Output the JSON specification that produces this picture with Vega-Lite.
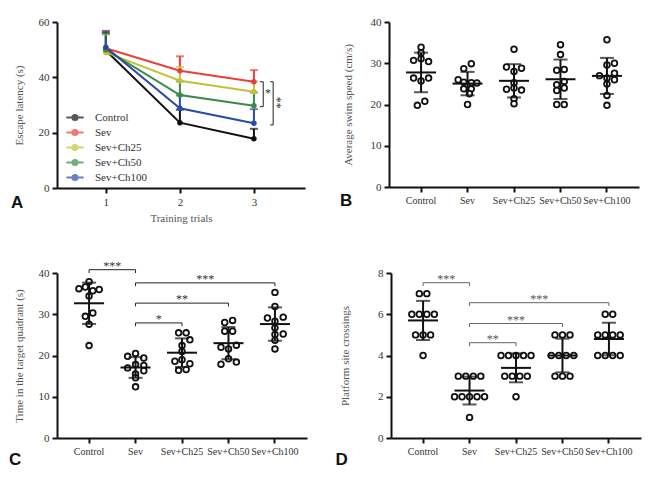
{
  "$schema": "https://vega.github.io/schema/vega-lite/v6.json",
  "padding": {"left": 9, "top": 16, "right": 4, "bottom": 4},
  "background": "white",
  "spacing": 36,
  "config": {
    "font": "Liberation Serif",
    "view": {"stroke": null},
    "axis": {
      "domainColor": "#111", "domainWidth": 2, "tickColor": "#111", "tickWidth": 2, "tickSize": 5,
      "labelFont": "Liberation Serif", "labelFontSize": 11, "labelColor": "#333", "labelPadding": 3,
      "titleFont": "Liberation Serif", "titleFontSize": 11, "titleFontWeight": "normal", "titleColor": "#555",
      "grid": false
    },
    "axisX": {"labelFontSize": 10},
    "legend": {"labelFont": "Liberation Serif", "labelFontSize": 11, "labelColor": "#333", "labelFontWeight": "normal"},
    "title": {"font": "Liberation Sans", "fontSize": 17, "fontWeight": "bold", "color": "#111"}
  },
  "datasets": {
    "a": [
      {"trial": 1, "group": "Control", "mean": 49.7, "upper": 56.0},
      {"trial": 2, "group": "Control", "mean": 23.6, "upper": 28.3},
      {"trial": 3, "group": "Control", "mean": 17.8, "upper": 21.4},
      {"trial": 1, "group": "Sev", "mean": 50.5, "upper": 56.8},
      {"trial": 2, "group": "Sev", "mean": 42.4, "upper": 47.6},
      {"trial": 3, "group": "Sev", "mean": 38.4, "upper": 42.6},
      {"trial": 1, "group": "Sev+Ch25", "mean": 49.0, "upper": 55.5},
      {"trial": 2, "group": "Sev+Ch25", "mean": 38.8, "upper": 43.8},
      {"trial": 3, "group": "Sev+Ch25", "mean": 34.8, "upper": 38.5},
      {"trial": 1, "group": "Sev+Ch50", "mean": 50.0, "upper": 55.8},
      {"trial": 2, "group": "Sev+Ch50", "mean": 33.6, "upper": 38.5},
      {"trial": 3, "group": "Sev+Ch50", "mean": 29.7, "upper": 34.5},
      {"trial": 1, "group": "Sev+Ch100", "mean": 50.9, "upper": 56.6},
      {"trial": 2, "group": "Sev+Ch100", "mean": 28.8, "upper": 33.5},
      {"trial": 3, "group": "Sev+Ch100", "mean": 23.4, "upper": 28.5}
    ],
    "abr": [
      {"x": 3.08, "x2": 3.126, "y": 38.4, "y2": 38.4},
      {"x": 3.08, "x2": 3.126, "y": 29.4, "y2": 29.4},
      {"x": 3.126, "x2": 3.126, "y": 29.4, "y2": 38.4},
      {"x": 3.22, "x2": 3.26, "y": 38.4, "y2": 38.4},
      {"x": 3.22, "x2": 3.26, "y": 22.8, "y2": 22.8},
      {"x": 3.26, "x2": 3.26, "y": 22.8, "y2": 38.4}
    ],
    "atext": [
      {"x": 3.19, "y": 34.2, "lab": "*", "ang": 0},
      {"x": 3.31, "y": 30.8, "lab": "**", "ang": 90}
    ],
    "b": [
      {"g": "Control", "v": 33.9, "slot": 0}, {"g": "Control", "v": 32.5, "slot": 0}, {"g": "Control", "v": 31.1, "slot": 0},
      {"g": "Control", "v": 30.7, "slot": -2}, {"g": "Control", "v": 30.4, "slot": 2}, {"g": "Control", "v": 26.4, "slot": -2},
      {"g": "Control", "v": 25.7, "slot": 0}, {"g": "Control", "v": 26.4, "slot": 2}, {"g": "Control", "v": 20.8, "slot": 1},
      {"g": "Control", "v": 19.8, "slot": -1},
      {"g": "Sev", "v": 29.9, "slot": 1}, {"g": "Sev", "v": 28.7, "slot": -1}, {"g": "Sev", "v": 26.0, "slot": -2.5},
      {"g": "Sev", "v": 25.4, "slot": -1}, {"g": "Sev", "v": 25.3, "slot": 1}, {"g": "Sev", "v": 25.2, "slot": 2.5},
      {"g": "Sev", "v": 23.8, "slot": -1}, {"g": "Sev", "v": 23.8, "slot": 1}, {"g": "Sev", "v": 22.6, "slot": 0.5},
      {"g": "Sev", "v": 20.0, "slot": 0},
      {"g": "Sev+Ch25", "v": 33.4, "slot": 0}, {"g": "Sev+Ch25", "v": 29.1, "slot": -2}, {"g": "Sev+Ch25", "v": 28.8, "slot": 2},
      {"g": "Sev+Ch25", "v": 28.0, "slot": 0}, {"g": "Sev+Ch25", "v": 25.3, "slot": 0}, {"g": "Sev+Ch25", "v": 24.0, "slot": 0},
      {"g": "Sev+Ch25", "v": 23.7, "slot": -2}, {"g": "Sev+Ch25", "v": 23.5, "slot": 2}, {"g": "Sev+Ch25", "v": 21.4, "slot": 0},
      {"g": "Sev+Ch25", "v": 20.2, "slot": 0},
      {"g": "Sev+Ch50", "v": 34.5, "slot": 0}, {"g": "Sev+Ch50", "v": 32.1, "slot": 0}, {"g": "Sev+Ch50", "v": 28.5, "slot": 1},
      {"g": "Sev+Ch50", "v": 28.3, "slot": -1}, {"g": "Sev+Ch50", "v": 25.6, "slot": 1}, {"g": "Sev+Ch50", "v": 24.8, "slot": -1},
      {"g": "Sev+Ch50", "v": 24.0, "slot": 1}, {"g": "Sev+Ch50", "v": 23.4, "slot": -1}, {"g": "Sev+Ch50", "v": 20.0, "slot": -1},
      {"g": "Sev+Ch50", "v": 20.0, "slot": 1},
      {"g": "Sev+Ch100", "v": 35.7, "slot": 0}, {"g": "Sev+Ch100", "v": 30.0, "slot": 2}, {"g": "Sev+Ch100", "v": 29.6, "slot": 0},
      {"g": "Sev+Ch100", "v": 27.6, "slot": 2}, {"g": "Sev+Ch100", "v": 27.0, "slot": -2}, {"g": "Sev+Ch100", "v": 26.4, "slot": 0},
      {"g": "Sev+Ch100", "v": 26.0, "slot": 2}, {"g": "Sev+Ch100", "v": 25.0, "slot": 0}, {"g": "Sev+Ch100", "v": 22.2, "slot": 0},
      {"g": "Sev+Ch100", "v": 19.8, "slot": 0}
    ],
    "c": [
      {"g": "Control", "v": 37.9, "slot": 0}, {"g": "Control", "v": 36.6, "slot": -1}, {"g": "Control", "v": 36.2, "slot": -2.7},
      {"g": "Control", "v": 35.7, "slot": 1}, {"g": "Control", "v": 36.0, "slot": 2.7}, {"g": "Control", "v": 34.4, "slot": 0},
      {"g": "Control", "v": 30.3, "slot": 1}, {"g": "Control", "v": 29.5, "slot": -1}, {"g": "Control", "v": 27.6, "slot": 0},
      {"g": "Control", "v": 22.4, "slot": 0},
      {"g": "Sev", "v": 20.5, "slot": 0}, {"g": "Sev", "v": 19.8, "slot": -2.1}, {"g": "Sev", "v": 19.4, "slot": 2.2},
      {"g": "Sev", "v": 17.8, "slot": 0}, {"g": "Sev", "v": 17.6, "slot": 2.2}, {"g": "Sev", "v": 17.0, "slot": -2.1},
      {"g": "Sev", "v": 16.3, "slot": 2.2}, {"g": "Sev", "v": 15.5, "slot": 0}, {"g": "Sev", "v": 14.6, "slot": 0},
      {"g": "Sev", "v": 12.4, "slot": 0},
      {"g": "Sev+Ch25", "v": 25.5, "slot": -0.9}, {"g": "Sev+Ch25", "v": 25.5, "slot": 1.1}, {"g": "Sev+Ch25", "v": 23.8, "slot": 2.1},
      {"g": "Sev+Ch25", "v": 22.4, "slot": 0}, {"g": "Sev+Ch25", "v": 21.0, "slot": 0}, {"g": "Sev+Ch25", "v": 18.6, "slot": -1.9},
      {"g": "Sev+Ch25", "v": 19.0, "slot": 0}, {"g": "Sev+Ch25", "v": 18.0, "slot": 2.1}, {"g": "Sev+Ch25", "v": 16.4, "slot": -0.9},
      {"g": "Sev+Ch25", "v": 16.6, "slot": 1.1},
      {"g": "Sev+Ch50", "v": 28.0, "slot": -1}, {"g": "Sev+Ch50", "v": 28.5, "slot": 1.1}, {"g": "Sev+Ch50", "v": 25.9, "slot": -1},
      {"g": "Sev+Ch50", "v": 25.9, "slot": 1.1}, {"g": "Sev+Ch50", "v": 22.0, "slot": -2}, {"g": "Sev+Ch50", "v": 22.5, "slot": 2.1},
      {"g": "Sev+Ch50", "v": 21.6, "slot": 0}, {"g": "Sev+Ch50", "v": 19.2, "slot": 0}, {"g": "Sev+Ch50", "v": 17.9, "slot": -2},
      {"g": "Sev+Ch50", "v": 18.4, "slot": 2.1},
      {"g": "Sev+Ch100", "v": 35.3, "slot": 0}, {"g": "Sev+Ch100", "v": 31.9, "slot": 0}, {"g": "Sev+Ch100", "v": 29.1, "slot": -2},
      {"g": "Sev+Ch100", "v": 29.3, "slot": 2.2}, {"g": "Sev+Ch100", "v": 28.3, "slot": 0}, {"g": "Sev+Ch100", "v": 26.7, "slot": 0},
      {"g": "Sev+Ch100", "v": 25.1, "slot": 0}, {"g": "Sev+Ch100", "v": 25.2, "slot": 2.2}, {"g": "Sev+Ch100", "v": 23.7, "slot": 0},
      {"g": "Sev+Ch100", "v": 21.6, "slot": 0}
    ],
    "cbr": [
      {"from": "Control", "to": "Sev", "y": 40.8, "ylow": 40.0, "mid": "Control", "bp": 1, "lab": "***"},
      {"from": "Sev", "to": "Sev+Ch100", "y": 37.6, "ylow": 36.8, "mid": "Sev+Ch25", "bp": 1, "lab": "***"},
      {"from": "Sev", "to": "Sev+Ch50", "y": 32.7, "ylow": 31.9, "mid": "Sev+Ch25", "bp": 0.5, "lab": "**"},
      {"from": "Sev", "to": "Sev+Ch25", "y": 27.9, "ylow": 27.1, "mid": "Sev", "bp": 1, "lab": "*"}
    ],
    "d": [
      {"g": "Control", "v": 7, "slot": -1}, {"g": "Control", "v": 7, "slot": 1},
      {"g": "Control", "v": 6, "slot": -3}, {"g": "Control", "v": 6, "slot": -1}, {"g": "Control", "v": 6, "slot": 1}, {"g": "Control", "v": 6, "slot": 3},
      {"g": "Control", "v": 5, "slot": -2}, {"g": "Control", "v": 5, "slot": 0}, {"g": "Control", "v": 5, "slot": 2},
      {"g": "Control", "v": 4, "slot": 0},
      {"g": "Sev", "v": 3, "slot": -3}, {"g": "Sev", "v": 3, "slot": -1}, {"g": "Sev", "v": 3, "slot": 1}, {"g": "Sev", "v": 3, "slot": 3},
      {"g": "Sev", "v": 2, "slot": -4}, {"g": "Sev", "v": 2, "slot": -2}, {"g": "Sev", "v": 2, "slot": 0}, {"g": "Sev", "v": 2, "slot": 2}, {"g": "Sev", "v": 2, "slot": 4},
      {"g": "Sev", "v": 1, "slot": 0},
      {"g": "Sev+Ch25", "v": 4, "slot": -4}, {"g": "Sev+Ch25", "v": 4, "slot": -2}, {"g": "Sev+Ch25", "v": 4, "slot": 0}, {"g": "Sev+Ch25", "v": 4, "slot": 2}, {"g": "Sev+Ch25", "v": 4, "slot": 4},
      {"g": "Sev+Ch25", "v": 3, "slot": -3}, {"g": "Sev+Ch25", "v": 3, "slot": -1}, {"g": "Sev+Ch25", "v": 3, "slot": 1}, {"g": "Sev+Ch25", "v": 3, "slot": 3},
      {"g": "Sev+Ch25", "v": 2, "slot": 0},
      {"g": "Sev+Ch50", "v": 5, "slot": -2}, {"g": "Sev+Ch50", "v": 5, "slot": 0}, {"g": "Sev+Ch50", "v": 5, "slot": 2},
      {"g": "Sev+Ch50", "v": 4, "slot": -3}, {"g": "Sev+Ch50", "v": 4, "slot": -1}, {"g": "Sev+Ch50", "v": 4, "slot": 1}, {"g": "Sev+Ch50", "v": 4, "slot": 3},
      {"g": "Sev+Ch50", "v": 3, "slot": -2}, {"g": "Sev+Ch50", "v": 3, "slot": 0}, {"g": "Sev+Ch50", "v": 3, "slot": 2},
      {"g": "Sev+Ch100", "v": 6, "slot": -1}, {"g": "Sev+Ch100", "v": 6, "slot": 1},
      {"g": "Sev+Ch100", "v": 5, "slot": -3}, {"g": "Sev+Ch100", "v": 5, "slot": -1}, {"g": "Sev+Ch100", "v": 5, "slot": 1}, {"g": "Sev+Ch100", "v": 5, "slot": 3},
      {"g": "Sev+Ch100", "v": 4, "slot": -3}, {"g": "Sev+Ch100", "v": 4, "slot": -1}, {"g": "Sev+Ch100", "v": 4, "slot": 1}, {"g": "Sev+Ch100", "v": 4, "slot": 3}
    ],
    "dbr": [
      {"from": "Control", "to": "Sev", "y": 7.53, "ylow": 7.37, "mid": "Control", "bp": 1, "lab": "***"},
      {"from": "Sev", "to": "Sev+Ch100", "y": 6.56, "ylow": 6.4, "mid": "Sev+Ch25", "bp": 1, "lab": "***"},
      {"from": "Sev", "to": "Sev+Ch50", "y": 5.55, "ylow": 5.38, "mid": "Sev+Ch25", "bp": 0.5, "lab": "***"},
      {"from": "Sev", "to": "Sev+Ch25", "y": 4.62, "ylow": 4.45, "mid": "Sev", "bp": 1, "lab": "**"}
    ]
  },
  "vconcat": [
    {
      "spacing": 35,
      "hconcat": [
        {
          "width": 248, "height": 166,
          "title": {"text": "A", "orient": "bottom", "anchor": "start", "frame": "bounds", "offset": 0, "dy": -28, "dx": -2},
          "layer": [
            {
              "data": {"name": "a"},
              "mark": {"type": "rule", "strokeWidth": 2},
              "encoding": {
                "x": {"field": "trial", "type": "quantitative", "scale": {"domain": [0.34, 3.69], "nice": false, "zero": false},
                      "axis": {"values": [1, 2, 3], "format": "d", "title": "Training trials", "titlePadding": 5, "labelFontSize": 11}},
                "y": {"field": "mean", "type": "quantitative", "scale": {"domain": [0, 60], "nice": false},
                      "axis": {"values": [0, 20, 40, 60], "title": "Escape latency (s)", "titlePadding": 14}},
                "y2": {"field": "upper"},
                "color": {"field": "group", "type": "nominal",
                          "scale": {"domain": ["Control", "Sev", "Sev+Ch25", "Sev+Ch50", "Sev+Ch100"],
                                    "range": ["#111111", "#e8403a", "#c2c23a", "#3a8a48", "#2a4aa8"]},
                          "legend": {"orient": "none", "legendX": 8, "legendY": 89, "title": null,
                                     "labelFont": "Liberation Serif", "labelFontSize": 11, "labelColor": "#333",
                                     "symbolType": "M-1,0H1M-0.3,0A0.3,0.3 0 1,0 0.3,0A0.3,0.3 0 1,0 -0.3,0",
                                     "symbolSize": 300, "symbolStrokeWidth": 2, "rowPadding": 2, "clipHeight": 13, "labelOffset": 10}}
              }
            },
            {
              "data": {"name": "a"},
              "mark": {"type": "tick", "orient": "horizontal", "size": 8, "thickness": 2},
              "encoding": {
                "x": {"field": "trial", "type": "quantitative"},
                "y": {"field": "upper", "type": "quantitative", "title": "Escape latency (s)"},
                "color": {"field": "group", "type": "nominal"}
              }
            },
            {
              "data": {"name": "a"},
              "mark": {"type": "line", "strokeWidth": 2},
              "encoding": {
                "x": {"field": "trial", "type": "quantitative"},
                "y": {"field": "mean", "type": "quantitative"},
                "color": {"field": "group", "type": "nominal"}
              }
            },
            {
              "data": {"name": "a"},
              "mark": {"type": "circle", "size": 30, "opacity": 1},
              "encoding": {
                "x": {"field": "trial", "type": "quantitative"},
                "y": {"field": "mean", "type": "quantitative"},
                "color": {"field": "group", "type": "nominal"}
              }
            },
            {
              "data": {"name": "abr"},
              "mark": {"type": "rule", "strokeWidth": 1, "color": "#222"},
              "encoding": {
                "x": {"field": "x", "type": "quantitative", "title": "Training trials"}, "x2": {"field": "x2"},
                "y": {"field": "y", "type": "quantitative", "title": "Escape latency (s)"}, "y2": {"field": "y2"}
              }
            },
            {
              "data": {"name": "atext"},
              "mark": {"type": "text", "font": "Liberation Serif", "fontSize": 12, "color": "#333"},
              "encoding": {
                "x": {"field": "x", "type": "quantitative", "title": "Training trials"},
                "y": {"field": "y", "type": "quantitative", "title": "Escape latency (s)"},
                "text": {"field": "lab"},
                "angle": {"field": "ang", "type": "quantitative", "scale": null}
              }
            }
          ]
        },
        {
          "width": 250, "height": 165,
          "title": {"text": "B", "orient": "bottom", "anchor": "start", "frame": "bounds", "offset": 0, "dy": -12, "dx": -2},
          "data": {"name": "b"},
          "layer": [
            {
              "mark": {"type": "point", "shape": "circle", "size": 32, "filled": false, "stroke": "#111", "strokeWidth": 1.8, "fill": "white", "fillOpacity": 1, "opacity": 1},
              "encoding": {
                "x": {"field": "g", "type": "nominal", "sort": ["Control", "Sev", "Sev+Ch25", "Sev+Ch50", "Sev+Ch100"],
                      "scale": {"paddingInner": 0, "paddingOuter": 0.19}, "axis": {"title": null, "labelAngle": 0}},
                "xOffset": {"field": "slot", "type": "quantitative", "scale": {"domain": [-3, 3], "range": [8.25, 38.25]}},
                "y": {"field": "v", "type": "quantitative", "title": "Average swim speed (cm/s)", "scale": {"domain": [0, 40], "nice": false},
                      "axis": {"values": [0, 10, 20, 30, 40], "titlePadding": 17}}
              }
            },
            {
              "mark": {"type": "errorbar", "extent": "stdev", "thickness": 2, "color": "#111", "ticks": {"size": 14, "thickness": 2, "color": "#111"}},
              "encoding": {
                "x": {"field": "g", "type": "nominal", "title": null, "sort": ["Control", "Sev", "Sev+Ch25", "Sev+Ch50", "Sev+Ch100"]},
                "y": {"field": "v", "type": "quantitative", "title": "Average swim speed (cm/s)"}
              }
            },
            {
              "mark": {"type": "tick", "thickness": 2, "size": 30, "color": "#111"},
              "encoding": {
                "x": {"field": "g", "type": "nominal", "title": null, "sort": ["Control", "Sev", "Sev+Ch25", "Sev+Ch50", "Sev+Ch100"]},
                "y": {"field": "v", "type": "quantitative", "aggregate": "mean", "title": "Average swim speed (cm/s)"}
              }
            }
          ]
        }
      ]
    },
    {
      "spacing": 28,
      "hconcat": [
        {
          "width": 250, "height": 165,
          "title": {"text": "C", "orient": "bottom", "anchor": "start", "frame": "bounds", "offset": 0, "dy": -4, "dx": -4},
          "layer": [
            {
              "data": {"name": "c"},
              "mark": {"type": "point", "shape": "circle", "size": 32, "filled": false, "stroke": "#111", "strokeWidth": 1.8, "fill": "white", "fillOpacity": 1, "opacity": 1},
              "encoding": {
                "x": {"field": "g", "type": "nominal", "title": null,
                      "scale": {"domain": ["Control", "Sev", "Sev+Ch25", "Sev+Ch50", "Sev+Ch100"], "paddingInner": 0, "paddingOuter": 0.19}, "axis": {"labelAngle": 0}},
                "xOffset": {"field": "slot", "type": "quantitative", "scale": {"domain": [-3, 3], "range": [8.25, 38.25]}},
                "y": {"field": "v", "type": "quantitative", "title": "Time in the target quadrant (s)", "scale": {"domain": [0, 40], "nice": false},
                      "axis": {"values": [0, 10, 20, 30, 40], "titlePadding": 14}}
              }
            },
            {
              "data": {"name": "c"},
              "mark": {"type": "errorbar", "extent": "stdev", "thickness": 2, "color": "#111", "ticks": {"size": 14, "thickness": 2, "color": "#111"}},
              "encoding": {
                "x": {"field": "g", "type": "nominal", "title": null},
                "y": {"field": "v", "type": "quantitative", "title": "Time in the target quadrant (s)"}
              }
            },
            {
              "data": {"name": "c"},
              "mark": {"type": "tick", "thickness": 2, "size": 30, "color": "#111"},
              "encoding": {
                "x": {"field": "g", "type": "nominal", "title": null},
                "y": {"field": "v", "type": "quantitative", "aggregate": "mean", "title": "Time in the target quadrant (s)"}
              }
            },
            {
              "data": {"name": "cbr"},
              "mark": {"type": "rule", "strokeWidth": 1, "color": "#222"},
              "encoding": {
                "x": {"field": "from", "type": "nominal", "title": null}, "x2": {"field": "to"},
                "y": {"field": "y", "type": "quantitative", "title": "Time in the target quadrant (s)"}
              }
            },
            {
              "data": {"name": "cbr"},
              "mark": {"type": "rule", "strokeWidth": 1, "color": "#222"},
              "encoding": {
                "x": {"field": "from", "type": "nominal", "title": null},
                "y": {"field": "y", "type": "quantitative", "title": "Time in the target quadrant (s)"}, "y2": {"field": "ylow"}
              }
            },
            {
              "data": {"name": "cbr"},
              "mark": {"type": "rule", "strokeWidth": 1, "color": "#222"},
              "encoding": {
                "x": {"field": "to", "type": "nominal", "title": null},
                "y": {"field": "y", "type": "quantitative", "title": "Time in the target quadrant (s)"}, "y2": {"field": "ylow"}
              }
            },
            {
              "data": {"name": "cbr"},
              "transform": [{"filter": "datum.bp == 1"}],
              "mark": {"type": "text", "font": "Liberation Serif", "fontSize": 12, "color": "#333", "baseline": "bottom", "dy": 3},
              "encoding": {
                "x": {"field": "mid", "type": "nominal", "bandPosition": 1, "title": null},
                "y": {"field": "y", "type": "quantitative", "title": "Time in the target quadrant (s)"},
                "text": {"field": "lab"}
              }
            },
            {
              "data": {"name": "cbr"},
              "transform": [{"filter": "datum.bp == 0.5"}],
              "mark": {"type": "text", "font": "Liberation Serif", "fontSize": 12, "color": "#333", "baseline": "bottom", "dy": 3},
              "encoding": {
                "x": {"field": "mid", "type": "nominal", "bandPosition": 0.5, "title": null},
                "y": {"field": "y", "type": "quantitative", "title": "Time in the target quadrant (s)"},
                "text": {"field": "lab"}
              }
            }
          ]
        },
        {
          "width": 250, "height": 165,
          "title": {"text": "D", "orient": "bottom", "anchor": "start", "frame": "bounds", "offset": 0, "dy": -4, "dx": -4},
          "layer": [
            {
              "data": {"name": "d"},
              "mark": {"type": "point", "shape": "circle", "size": 32, "filled": false, "stroke": "#111", "strokeWidth": 1.8, "fill": "white", "fillOpacity": 1, "opacity": 1},
              "encoding": {
                "x": {"field": "g", "type": "nominal", "title": null,
                      "scale": {"domain": ["Control", "Sev", "Sev+Ch25", "Sev+Ch50", "Sev+Ch100"], "paddingInner": 0, "paddingOuter": 0.19}, "axis": {"labelAngle": 0}},
                "xOffset": {"field": "slot", "type": "quantitative", "scale": {"domain": [-4, 4], "range": [8.65, 37.85]}},
                "y": {"field": "v", "type": "quantitative", "title": "Platform site crossings", "scale": {"domain": [0, 8], "nice": false},
                      "axis": {"values": [0, 2, 4, 6, 8], "titlePadding": 27}}
              }
            },
            {
              "data": {"name": "d"},
              "mark": {"type": "errorbar", "extent": "stdev", "thickness": 2, "color": "#111", "ticks": {"size": 14, "thickness": 2, "color": "#111"}},
              "encoding": {
                "x": {"field": "g", "type": "nominal", "title": null},
                "y": {"field": "v", "type": "quantitative", "title": "Platform site crossings"}
              }
            },
            {
              "data": {"name": "d"},
              "mark": {"type": "tick", "thickness": 2, "size": 30, "color": "#111"},
              "encoding": {
                "x": {"field": "g", "type": "nominal", "title": null},
                "y": {"field": "v", "type": "quantitative", "aggregate": "mean", "title": "Platform site crossings"}
              }
            },
            {
              "data": {"name": "dbr"},
              "mark": {"type": "rule", "strokeWidth": 1, "color": "#666"},
              "encoding": {
                "x": {"field": "from", "type": "nominal", "title": null}, "x2": {"field": "to"},
                "y": {"field": "y", "type": "quantitative", "title": "Platform site crossings"}
              }
            },
            {
              "data": {"name": "dbr"},
              "mark": {"type": "rule", "strokeWidth": 1, "color": "#666"},
              "encoding": {
                "x": {"field": "from", "type": "nominal", "title": null},
                "y": {"field": "y", "type": "quantitative", "title": "Platform site crossings"}, "y2": {"field": "ylow"}
              }
            },
            {
              "data": {"name": "dbr"},
              "mark": {"type": "rule", "strokeWidth": 1, "color": "#666"},
              "encoding": {
                "x": {"field": "to", "type": "nominal", "title": null},
                "y": {"field": "y", "type": "quantitative", "title": "Platform site crossings"}, "y2": {"field": "ylow"}
              }
            },
            {
              "data": {"name": "dbr"},
              "transform": [{"filter": "datum.bp == 1"}],
              "mark": {"type": "text", "font": "Liberation Serif", "fontSize": 12, "color": "#555", "baseline": "bottom", "dy": 3},
              "encoding": {
                "x": {"field": "mid", "type": "nominal", "bandPosition": 1, "title": null},
                "y": {"field": "y", "type": "quantitative", "title": "Platform site crossings"},
                "text": {"field": "lab"}
              }
            },
            {
              "data": {"name": "dbr"},
              "transform": [{"filter": "datum.bp == 0.5"}],
              "mark": {"type": "text", "font": "Liberation Serif", "fontSize": 12, "color": "#555", "baseline": "bottom", "dy": 3},
              "encoding": {
                "x": {"field": "mid", "type": "nominal", "bandPosition": 0.5, "title": null},
                "y": {"field": "y", "type": "quantitative", "title": "Platform site crossings"},
                "text": {"field": "lab"}
              }
            }
          ]
        }
      ]
    }
  ]
}
